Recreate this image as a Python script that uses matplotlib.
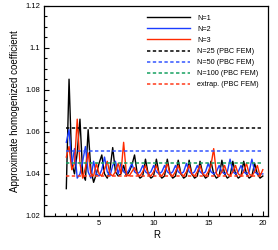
import numpy as np
import matplotlib
matplotlib.use('Agg')
import matplotlib.pyplot as plt
from matplotlib.ticker import MultipleLocator

plt.rcParams['font.family'] = ['Liberation Sans', 'DejaVu Sans']

# R grid (step 0.25 from 2 to 20)
R = np.arange(2, 20.001, 0.25)

n1 = [1.033, 1.085, 1.045, 1.040, 1.050, 1.066, 1.040, 1.037, 1.061, 1.042,
      1.036, 1.040, 1.045, 1.049, 1.040, 1.038, 1.042, 1.0525, 1.041, 1.039,
      1.040, 1.044, 1.039, 1.041, 1.044, 1.049, 1.040, 1.038, 1.039, 1.047,
      1.040, 1.038, 1.039, 1.047, 1.040, 1.038, 1.039, 1.047, 1.040, 1.038,
      1.039, 1.0465, 1.040, 1.038, 1.039, 1.0465, 1.040, 1.038, 1.039, 1.046,
      1.040, 1.038, 1.039, 1.046, 1.040, 1.038, 1.039, 1.0465, 1.040, 1.038,
      1.039, 1.046, 1.040, 1.038, 1.039, 1.046, 1.040, 1.038, 1.039, 1.045,
      1.040, 1.038, 1.039]

n2 = [1.055, 1.061, 1.044, 1.052, 1.038, 1.040, 1.046, 1.053, 1.041, 1.038,
      1.046, 1.040, 1.039, 1.042, 1.048, 1.041, 1.039, 1.044, 1.046, 1.040,
      1.045, 1.041, 1.040, 1.042, 1.045, 1.041, 1.040, 1.041, 1.044, 1.041,
      1.040, 1.041, 1.044, 1.041, 1.040, 1.041, 1.044, 1.041, 1.040, 1.041,
      1.044, 1.041, 1.040, 1.041, 1.045, 1.041, 1.040, 1.041, 1.044, 1.041,
      1.040, 1.041, 1.045, 1.041, 1.040, 1.041, 1.044, 1.041, 1.040, 1.041,
      1.047, 1.041, 1.040, 1.041, 1.044, 1.041, 1.040, 1.041, 1.047, 1.041,
      1.040, 1.040, 1.040]

n3 = [1.048, 1.053, 1.042, 1.045, 1.066, 1.045, 1.038, 1.043, 1.050, 1.040,
      1.039, 1.045, 1.040, 1.039, 1.042, 1.046, 1.040, 1.039, 1.041, 1.045,
      1.040, 1.055, 1.040, 1.039, 1.041, 1.043, 1.040, 1.039, 1.041, 1.044,
      1.040, 1.039, 1.041, 1.044, 1.040, 1.039, 1.041, 1.045, 1.040, 1.039,
      1.041, 1.044, 1.040, 1.039, 1.041, 1.044, 1.040, 1.039, 1.041, 1.044,
      1.040, 1.039, 1.041, 1.044, 1.052, 1.040, 1.039, 1.041, 1.044, 1.040,
      1.039, 1.041, 1.044, 1.040, 1.039, 1.041, 1.045, 1.040, 1.039, 1.041,
      1.044, 1.039, 1.042]

fem_labels = ['N=25 (PBC FEM)', 'N=50 (PBC FEM)', 'N=100 (PBC FEM)', 'extrap. (PBC FEM)']
fem_values = [1.0616, 1.0508, 1.0450, 1.0392]
fem_colors = ['black', '#3355ff', '#16a060', '#ff3a1a']

fig = plt.figure(figsize=(2.78, 2.5), dpi=100)
ax = fig.add_axes([0.16, 0.136, 0.805, 0.842])

ax.plot(R, n1, color='black', lw=1.0, label='N=1')
ax.plot(R, n2, color='#1a3cff', lw=1.0, label='N=2')
ax.plot(R, n3, color='#ff2a00', lw=1.0, label='N=3')
for lab, val, col in zip(fem_labels, fem_values, fem_colors):
    ax.plot([R[0], R[-1]], [val, val], color=col, lw=1.1,
            linestyle=(0, (2.2, 1.6)), label=lab)

ax.set_xlim(0, 20.5)
ax.set_ylim(1.02, 1.12)
ax.xaxis.set_minor_locator(MultipleLocator(1))
ax.yaxis.set_minor_locator(MultipleLocator(0.005))
ax.set_xticks([5, 10, 15, 20])
ax.set_yticks([1.02, 1.04, 1.06, 1.08, 1.1, 1.12])
ax.set_yticklabels(['1.02', '1.04', '1.06', '1.08', '1.1', '1.12'])
ax.tick_params(which='both', direction='in', labelsize=5.5, width=0.8)
ax.tick_params(which='major', length=3.5, pad=3)
ax.tick_params(which='minor', length=2)
for s in ax.spines.values():
    s.set_linewidth(0.9)

ax.set_xlabel('R', fontsize=7, labelpad=2)
ax.set_ylabel('Approximate homogenized coefficient', fontsize=7, labelpad=4)

ax.legend(loc='upper right', frameon=False, fontsize=5.2, handlelength=6.0,
          handletextpad=1.0, labelspacing=0.55, borderaxespad=0.9)

fig.savefig('out.png', dpi=100)
